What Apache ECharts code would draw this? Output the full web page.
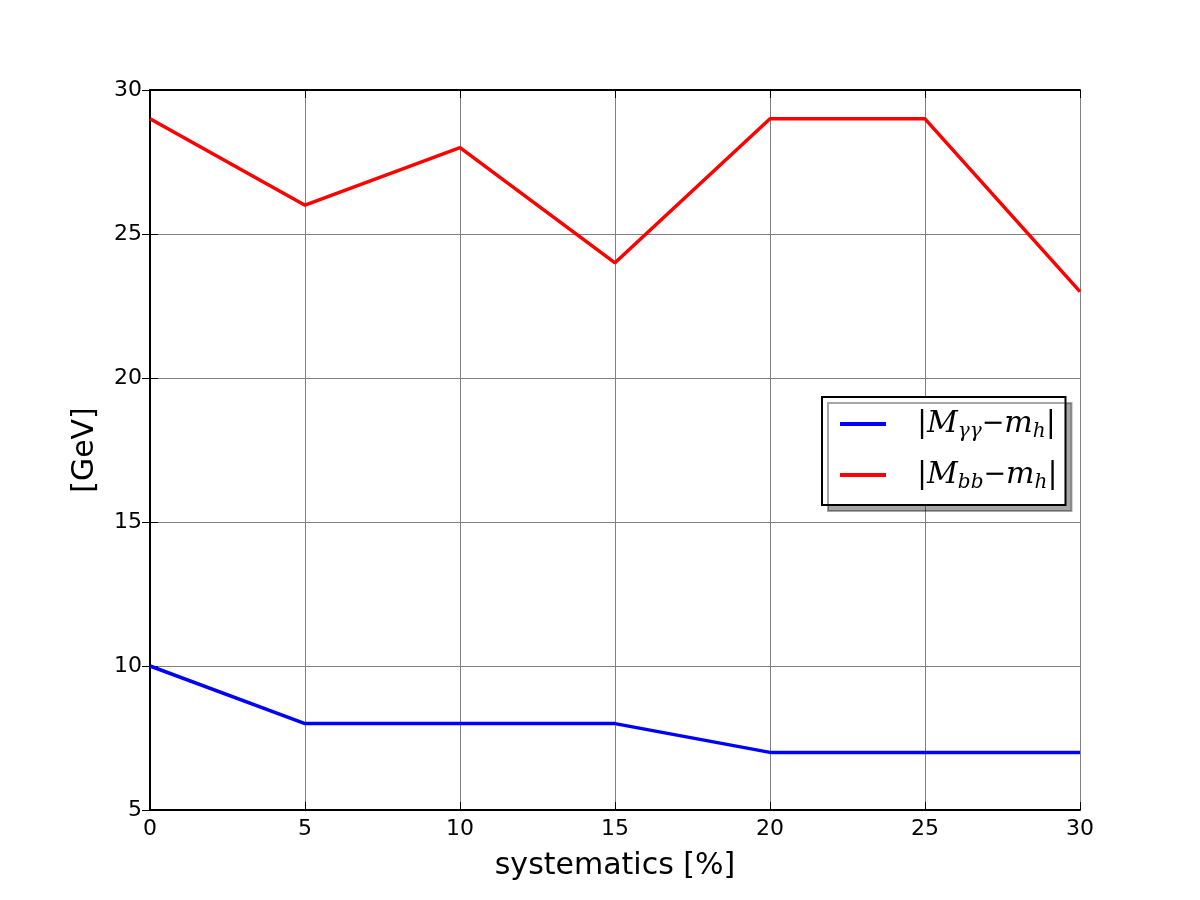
<!DOCTYPE html>
<html>
<head>
<meta charset="utf-8">
<script src="https://cdn.jsdelivr.net/npm/echarts@6/dist/echarts.min.js"></script>
<style>
  html, body { margin: 0; padding: 0; background: #fff; }
  #main { width: 1200px; height: 900px; }
</style>
</head>
<body>
<div id="main"></div>
<script>
// systematics in percent
var systematics = [0, 5, 10, 15, 20, 25, 30];
var diffGammaGamma = [10, 8, 8, 8, 7, 7, 7];
var diffBB = [29, 26, 28, 24, 29, 29, 23];

function pairs(xs, ys) {
	return xs.map(function (x, i) { return [x, ys[i]]; });
}

var labelFont = 'DejaVu Sans';
var rich = {
	bar: {fontFamily: 'DejaVu Serif', fontSize: 30, color: '#000', verticalAlign: 'middle'},
	it: {fontFamily: 'DejaVu Serif', fontStyle: 'italic', fontSize: 30, color: '#000', verticalAlign: 'middle'},
	sub: {fontFamily: 'DejaVu Serif', fontStyle: 'italic', fontSize: 20, color: '#000', verticalAlign: 'top', padding: [16, 0, 0, 0]},
	op: {fontFamily: 'DejaVu Sans', fontSize: 27, color: '#000', verticalAlign: 'middle'}
};

var myChart = echarts.init(document.getElementById('main'));

var frameAxis = {
	min: 0, max: 30, interval: 5,
	axisLine: {show: true, lineStyle: {color: '#000', width: 2}},
	axisTick: {show: true, inside: true, length: 8, lineStyle: {color: '#000', width: 1}},
	axisLabel: {show: false},
	splitLine: {show: false}
};

var option = {
	backgroundColor: '#fff',
	animation: false,
	grid: {left: 150, right: 120, top: 90, bottom: 90, show: false},
	legend: {
		orient: 'vertical',
		left: 822,
		top: 397,
		padding: [12, 8, 12, 18],
		itemWidth: 46,
		itemHeight: 4,
		itemGap: 18,
		icon: 'rect',
		backgroundColor: '#fff',
		borderColor: '#000',
		borderWidth: 2,
		shadowColor: 'rgba(0,0,0,0.35)',
		shadowOffsetX: 6,
		shadowOffsetY: 6,
		shadowBlur: 0,
		textStyle: {rich: rich, padding: [0, 0, 0, 26]},
		formatter: function (name) {
			if (name === 'gg') {
				return '{bar||}{it|M}{sub|γγ}{op|−}{it|m}{sub|h}{bar||}';
			}
			return '{bar||}{it|M}{sub|bb}{op|−}{it|m}{sub|h}{bar||}';
		},
		data: ['gg', 'bb']
	},
	xAxis: [
		{
			type: 'value', min: 0, max: 30, interval: 5,
			name: 'systematics [%]',
			nameLocation: 'middle',
			nameGap: 41,
			nameTextStyle: {fontFamily: labelFont, fontSize: 30, color: '#000'},
			axisLine: {show: true, onZero: false, lineStyle: {color: '#000', width: 2}},
			axisTick: {show: true, inside: true, length: 8, lineStyle: {color: '#000', width: 1}},
			axisLabel: {fontFamily: labelFont, fontSize: 22, color: '#000', margin: 8},
			splitLine: {show: true, lineStyle: {color: '#808080', width: 1}}
		},
		Object.assign({type: 'value', position: 'top'}, frameAxis)
	],
	yAxis: [
		{
			type: 'value', min: 5, max: 30, interval: 5,
			name: '[GeV]',
			nameLocation: 'middle',
			nameGap: 50,
			nameTextStyle: {fontFamily: labelFont, fontSize: 30, color: '#000'},
			axisLine: {show: true, onZero: false, lineStyle: {color: '#000', width: 2}},
			axisTick: {show: true, inside: true, length: 8, lineStyle: {color: '#000', width: 1}},
			axisLabel: {fontFamily: labelFont, fontSize: 22, color: '#000', margin: 8},
			splitLine: {show: true, lineStyle: {color: '#808080', width: 1}}
		},
		Object.assign({type: 'value', position: 'right'}, frameAxis, {min: 5, max: 30})
	],
	series: [
		{
			name: 'gg',
			type: 'line',
			symbol: 'none',
			color: '#0000ff',
			lineStyle: {width: 3.5, color: '#0000ff'},
			data: pairs(systematics, diffGammaGamma)
		},
		{
			name: 'bb',
			type: 'line',
			symbol: 'none',
			color: '#ff0000',
			lineStyle: {width: 3.5, color: '#ff0000'},
			data: pairs(systematics, diffBB)
		}
	]
};
myChart.setOption(option);
</script>
</body>
</html>
